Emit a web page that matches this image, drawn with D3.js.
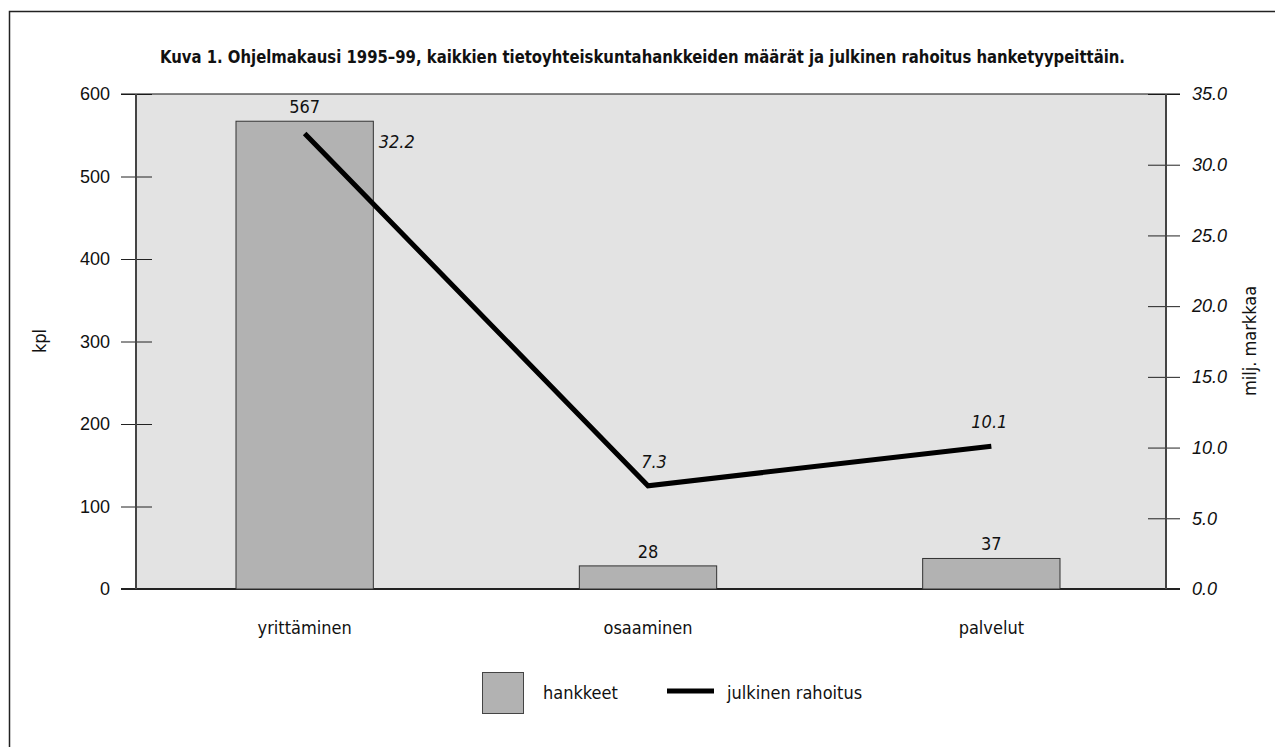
<!DOCTYPE html>
<html lang="fi">
<head>
<meta charset="UTF-8">
<script src="https://cdnjs.cloudflare.com/ajax/libs/d3/7.8.5/d3.min.js"></script>
<style>
  body { margin: 0; background: #fff; }
  svg text { font-family: "Liberation Sans Narrow", "DejaVu Sans Condensed", "Roboto", sans-serif; font-stretch: condensed; fill: #111; }
</style>
</head>
<body>
<svg id="chart" width="1275" height="747"></svg>
<script>
// data
var categories = ["yrittäminen", "osaaminen", "palvelut"];
var hankkeet = [567, 28, 37];          // kpl
var rahoitus = [32.2, 7.3, 10.1];      // milj. markkaa
var leftTicks = [0, 100, 200, 300, 400, 500, 600];
var rightTicks = [0, 5, 10, 15, 20, 25, 30, 35];

var svg = d3.select("#chart");
var pLeft = 136, pRight = 1166, pTop = 94, pBottom = 589;

// outer frame
svg.append("rect")
    .attr("x", 9.5).attr("y", 11.5)
    .attr("width", 1280).attr("height", 760)
    .attr("fill", "none").attr("stroke", "#222").attr("stroke-width", 1.5);

// title
svg.append("text")
    .attr("x", 160).attr("y", 63)
    .attr("textLength", 965).attr("lengthAdjust", "spacingAndGlyphs")
    .attr("font-size", "18px").attr("font-weight", "bold")
    .text("Kuva 1. Ohjelmakausi 1995–99, kaikkien tietoyhteiskuntahankkeiden määrät ja julkinen rahoitus hanketyypeittäin.");

var x = d3.scaleBand().domain(categories).range([pLeft - 3, pRight - 3])
    .paddingInner(0.6).paddingOuter(0.3);
var yL = d3.scaleLinear().domain([0, 600]).range([pBottom, pTop]);
var yR = d3.scaleLinear().domain([0, 35]).range([pBottom, pTop]);

// plot background
svg.append("rect")
    .attr("x", pLeft).attr("y", pTop)
    .attr("width", pRight - pLeft).attr("height", pBottom - pTop)
    .attr("fill", "#e3e3e3");

// left axis
var axL = svg.append("g").attr("transform", "translate(" + pLeft + ",0)")
    .call(d3.axisLeft(yL).tickValues(leftTicks).tickSize(15).tickPadding(11).tickFormat(d3.format("d")));
axL.select(".domain").remove();
axL.selectAll(".tick line").attr("x2", -15).attr("x1", 16).attr("stroke", "#222");
axL.selectAll(".tick text").attr("font-size", "18px").style("font-family", "inherit");

// right axis
var axR = svg.append("g").attr("transform", "translate(" + pRight + ",0)")
    .call(d3.axisRight(yR).tickValues(rightTicks).tickSize(14).tickPadding(12).tickFormat(d3.format(".1f")));
axR.select(".domain").remove();
axR.selectAll(".tick line").attr("x1", -18).attr("x2", 14).attr("stroke", "#222");
axR.selectAll(".tick text").attr("font-size", "18px").attr("font-style", "italic").style("font-family", "inherit");

// frame lines
svg.append("line").attr("x1", 121).attr("x2", 1180).attr("y1", pTop).attr("y2", pTop)
    .attr("stroke", "#111").attr("stroke-width", 1.2);
svg.append("line").attr("x1", 121).attr("x2", 1180).attr("y1", pBottom).attr("y2", pBottom)
    .attr("stroke", "#222").attr("stroke-width", 2);
svg.append("line").attr("x1", pLeft).attr("x2", pLeft).attr("y1", pTop).attr("y2", pBottom)
    .attr("stroke", "#444").attr("stroke-width", 2);
svg.append("line").attr("x1", pRight).attr("x2", pRight).attr("y1", pTop).attr("y2", pBottom)
    .attr("stroke", "#444").attr("stroke-width", 2);

// bars
svg.selectAll("rect.bar").data(hankkeet).enter().append("rect")
    .attr("class", "bar")
    .attr("x", function (d, i) { return x(categories[i]); })
    .attr("y", function (d) { return yL(d); })
    .attr("width", x.bandwidth())
    .attr("height", function (d) { return pBottom - yL(d); })
    .attr("fill", "#b2b2b2").attr("stroke", "#333").attr("stroke-width", 1);

svg.selectAll("text.barlab").data(hankkeet).enter().append("text")
    .attr("class", "barlab")
    .attr("x", function (d, i) { return x(categories[i]) + x.bandwidth() / 2; })
    .attr("y", function (d) { return yL(d) - 8; })
    .attr("text-anchor", "middle").attr("font-size", "18px")
    .text(function (d) { return d; });

// line
var line = d3.line()
    .x(function (d, i) { return x(categories[i]) + x.bandwidth() / 2; })
    .y(function (d) { return yR(d); });
svg.append("path").datum(rahoitus)
    .attr("d", line).attr("fill", "none")
    .attr("stroke", "#000").attr("stroke-width", 5);

var lineLabOff = [[92, 14], [6, -18], [-2, -18]];
svg.selectAll("text.linelab").data(rahoitus).enter().append("text")
    .attr("class", "linelab")
    .attr("x", function (d, i) { return x(categories[i]) + x.bandwidth() / 2 + lineLabOff[i][0]; })
    .attr("y", function (d, i) { return yR(d) + lineLabOff[i][1]; })
    .attr("text-anchor", "middle").attr("font-size", "18px").attr("font-style", "italic")
    .text(function (d) { return d.toFixed(1); });

// category labels
svg.selectAll("text.cat").data(categories).enter().append("text")
    .attr("class", "cat")
    .attr("x", function (d) { return x(d) + x.bandwidth() / 2; })
    .attr("y", 634)
    .attr("text-anchor", "middle").attr("font-size", "18px")
    .text(function (d) { return d; });

// axis titles
svg.append("text")
    .attr("transform", "translate(46,341) rotate(-90)")
    .attr("text-anchor", "middle").attr("font-size", "18px").text("kpl");
svg.append("text")
    .attr("transform", "translate(1256,341) rotate(-90)")
    .attr("text-anchor", "middle").attr("font-size", "18px").text("milj. markkaa");

// legend
svg.append("rect").attr("x", 482.5).attr("y", 672.5).attr("width", 41).attr("height", 41)
    .attr("fill", "#b2b2b2").attr("stroke", "#444").attr("stroke-width", 1);
svg.append("text").attr("x", 543).attr("y", 699).attr("font-size", "18px").text("hankkeet");
svg.append("line").attr("x1", 667).attr("x2", 714).attr("y1", 691).attr("y2", 691)
    .attr("stroke", "#000").attr("stroke-width", 5);
svg.append("text").attr("x", 727).attr("y", 699).attr("font-size", "18px").text("julkinen rahoitus");
</script>
</body>
</html>
